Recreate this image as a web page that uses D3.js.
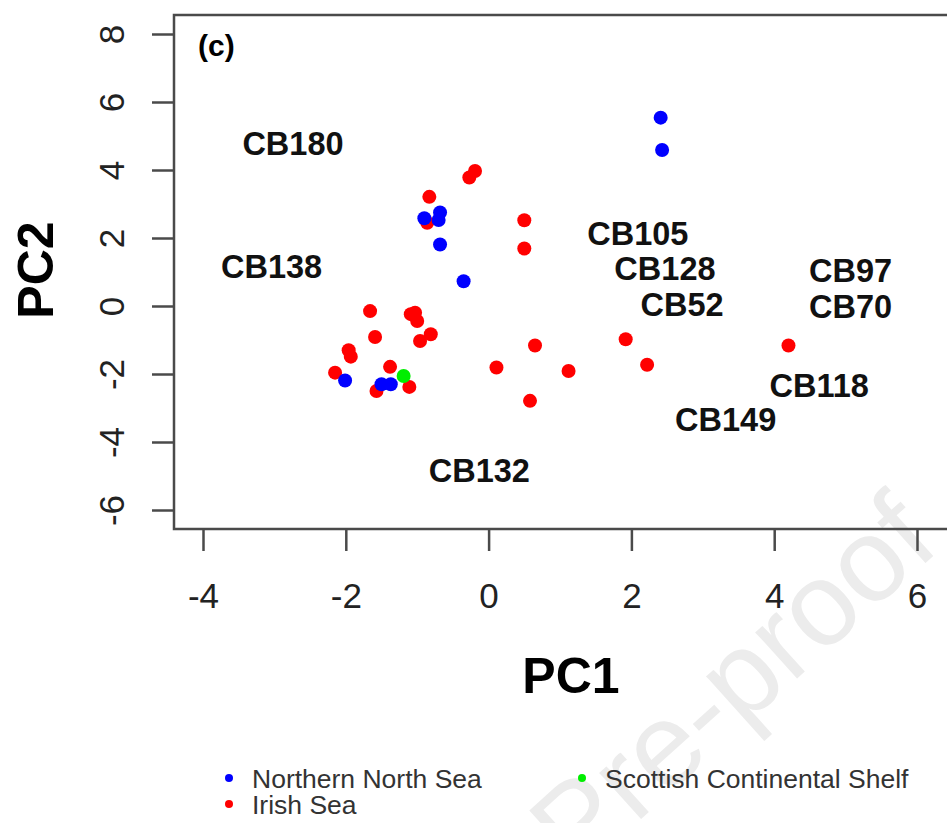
<!DOCTYPE html>
<html>
<head>
<meta charset="utf-8">
<script src="https://cdn.jsdelivr.net/npm/d3@7/dist/d3.min.js"></script>
<style>
  html, body { margin: 0; padding: 0; background: #fff; }
  svg { display: block; font-family: "Liberation Sans", Arial, sans-serif; }
</style>
</head>
<body>
<svg id="chart" width="947" height="823"></svg>
<script>
// PCA scores, panel (c)
const northernNorthSeaPC1 = [2.41, 2.43, -0.90, -0.68, -0.70, -0.68, -0.35, -2.01, -1.50, -1.37];
const northernNorthSeaPC2 = [5.54, 4.59, 2.58, 2.75, 2.53, 1.81, 0.73, -2.19, -2.30, -2.30];

const irishSeaPC1 = [-0.19, -0.27, -0.83, -0.86, 0.50, 0.50, -1.66, -1.09, -1.03, -1.00,
                     -1.59, -0.81, -0.96, -1.96, -1.93, 0.65, -2.15, -1.38, -1.57, -1.11,
                     0.11, 0.58, 1.12, 1.92, 2.22, 4.20];
const irishSeaPC2 = [3.97, 3.78, 3.21, 2.45, 2.52, 1.69, -0.15, -0.24, -0.20, -0.44,
                     -0.91, -0.83, -1.03, -1.30, -1.49, -1.16, -1.96, -1.79, -2.50, -2.38,
                     -1.81, -2.79, -1.91, -0.98, -1.73, -1.16];

const scottishShelfPC1 = [-1.19];
const scottishShelfPC2 = [-2.06];

// Sample labels placed in score space
const sampleLabels = ["CB180", "CB138", "CB105", "CB128", "CB52", "CB97", "CB70", "CB118", "CB149", "CB132"];
const labelPC1 = [-2.74, -3.04, 2.09, 2.47, 2.71, 5.07, 5.07, 4.63, 3.32, -0.13];
const labelPC2 = [4.80, 1.18, 2.15, 1.12, 0.04, 1.04, 0.00, -2.32, -3.34, -4.84];

const xTicks = [-4, -2, 0, 2, 4, 6];
const yTicks = [-6, -4, -2, 0, 2, 4, 6, 8];

const groups = [
  { name: "Irish Sea", color: "#ff0000", xs: irishSeaPC1, ys: irishSeaPC2 },
  { name: "Northern North Sea", color: "#0000ff", xs: northernNorthSeaPC1, ys: northernNorthSeaPC2 },
  { name: "Scottish Continental Shelf", color: "#00ee00", xs: scottishShelfPC1, ys: scottishShelfPC2 }
];

const svg = d3.select("#chart");
const axisColor = "#4a4a4a";
const plainNumber = d => String(d);   // ASCII hyphen for negatives

const x = d3.scaleLinear().domain([-4, 6]).range([203, 917]);
const y = d3.scaleLinear().domain([-6, 8]).range([510, 34]);

// journal watermark (drawn first, very faint)
svg.append("text")
  .attr("transform", "translate(942,548) rotate(-42)")
  .attr("text-anchor", "end")
  .attr("font-size", 118)
  .attr("fill", "#ececec")
  .text("Pre-proof");

// plot frame (extends past the right edge of the page)
const frame = { x0: x.invert(174), x1: 6.75, y0: y.invert(529), y1: y.invert(15) };
svg.append("rect")
  .attr("x", x(frame.x0)).attr("y", y(frame.y1))
  .attr("width", x(frame.x1) - x(frame.x0))
  .attr("height", y(frame.y0) - y(frame.y1))
  .attr("fill", "none").attr("stroke", axisColor).attr("stroke-width", 2.5);

// x axis
const gx = svg.append("g")
  .attr("transform", `translate(0,${y(frame.y0)})`)
  .call(d3.axisBottom(x).tickValues(xTicks).tickSize(22).tickPadding(32).tickFormat(plainNumber));
gx.select(".domain").remove();
gx.selectAll(".tick line").attr("stroke", axisColor).attr("stroke-width", 2.5);
gx.selectAll(".tick text").attr("font-size", 35).attr("fill", "#222")
  .attr("font-family", "'Liberation Sans', Arial, sans-serif");

// y axis with labels rotated parallel to the axis
const gy = svg.append("g")
  .attr("transform", `translate(${x(frame.x0)},0)`)
  .call(d3.axisLeft(y).tickValues(yTicks).tickSize(22).tickFormat(plainNumber));
gy.select(".domain").remove();
gy.selectAll(".tick line").attr("stroke", axisColor).attr("stroke-width", 2.5);
gy.selectAll(".tick text")
  .attr("font-size", 35).attr("fill", "#222")
  .attr("font-family", "'Liberation Sans', Arial, sans-serif")
  .attr("text-anchor", "middle")
  .attr("x", 0).attr("y", -50).attr("dy", 0)
  .attr("transform", "rotate(-90)");

// axis titles
svg.append("text")
  .attr("x", 571).attr("y", 693)
  .attr("text-anchor", "middle")
  .attr("font-size", 50).attr("font-weight", "bold")
  .text("PC1");
svg.append("text")
  .attr("transform", "translate(53,270) rotate(-90)")
  .attr("text-anchor", "middle")
  .attr("font-size", 50).attr("font-weight", "bold")
  .text("PC2");

// panel tag
svg.append("text")
  .attr("x", 198).attr("y", 56)
  .attr("font-size", 30).attr("font-weight", "bold")
  .text("(c)");

// sample labels
svg.append("g").selectAll("text")
  .data(sampleLabels)
  .join("text")
  .attr("x", (d, i) => x(labelPC1[i]))
  .attr("y", (d, i) => y(labelPC2[i]))
  .attr("dy", "0.36em")
  .attr("text-anchor", "middle")
  .attr("font-size", 32.5).attr("font-weight", "bold")
  .attr("fill", "#111")
  .text(d => d);

// points
groups.forEach(g => {
  svg.append("g").selectAll("circle")
    .data(g.xs.map((v, i) => [v, g.ys[i]]))
    .join("circle")
    .attr("cx", d => x(d[0]))
    .attr("cy", d => y(d[1]))
    .attr("r", 7)
    .attr("fill", g.color);
});

// legend below the plot
const legendItems = [
  { name: "Northern North Sea", color: "#0000ff", lx: 229, ly: 778 },
  { name: "Scottish Continental Shelf", color: "#00ee00", lx: 582, ly: 778 },
  { name: "Irish Sea", color: "#ff0000", lx: 229, ly: 804 }
];
const lg = svg.append("g").selectAll("g").data(legendItems).join("g")
  .attr("transform", d => `translate(${d.lx},${d.ly})`);
lg.append("circle").attr("r", 4).attr("fill", d => d.color);
lg.append("text").attr("x", 23).attr("dy", "0.36em")
  .attr("font-size", 26.5).attr("fill", "#333")
  .text(d => d.name);
</script>
</body>
</html>
